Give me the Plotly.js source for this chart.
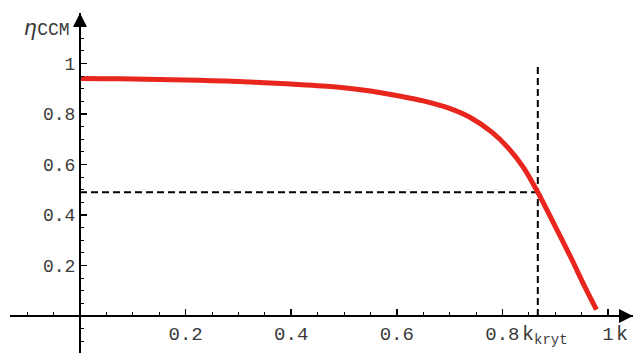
<!DOCTYPE html>
<html>
<head>
<meta charset="utf-8">
<script src="https://cdn.plot.ly/plotly-3.0.1.min.js"></script>
<style>html,body{margin:0;padding:0;background:#fff;}#chart{width:635px;height:353px;}</style>
</head>
<body>
<div id="chart"></div>
<script>
// Efficiency curve eta_CCM(k)
const kValues   = [0, 0.05, 0.1, 0.15, 0.2, 0.25, 0.3, 0.36, 0.42, 0.49, 0.55, 0.61, 0.65, 0.70, 0.74, 0.78, 0.81, 0.84, 0.867, 0.90, 0.93, 0.955, 0.978];
const etaValues = [0.941, 0.940, 0.939, 0.937, 0.935, 0.932, 0.929, 0.923, 0.916, 0.906, 0.891, 0.869, 0.852, 0.822, 0.785, 0.728, 0.668, 0.588, 0.49, 0.355, 0.23, 0.12, 0.025];

// critical point
const kKryt = 0.867;
const etaKryt = 0.49;
const etaTop = 1.0;

// tick labels
const xTickVals = [0.2, 0.4, 0.6, 0.8, 1];
const xTickText = ["0.2", "0.4", "0.6", "0.8", "1"];
const yTickVals = [0.2, 0.4, 0.6, 0.8, 1];
const yTickText = ["0.2", "0.4", "0.6", "0.8", "1"];

const xRange = [-0.1326, 1.0473];
const yRange = [-0.1465, 1.2];

const monoFont = "Liberation Mono, DejaVu Sans Mono, monospace";
const textColor = "#3a3a3a";

const traces = [
  {x: [kKryt, kKryt], y: [0, etaTop], mode: "lines", line: {color: "#000", width: 2, dash: "7px,4px"}, hoverinfo: "skip"},
  {x: [0, kKryt], y: [etaKryt, etaKryt], mode: "lines", line: {color: "#000", width: 2, dash: "7px,4px"}, hoverinfo: "skip"},
  {x: kValues, y: etaValues, mode: "lines", line: {color: "#e8261e", width: 5, shape: "spline", smoothing: 0.8}}
];

const axisCommon = {
  showgrid: false, zeroline: false, showline: true, linecolor: "#000", linewidth: 2,
  ticks: "inside", ticklen: 6, tickwidth: 1.5, tickcolor: "#000",
  tickmode: "array",
  minor: {tick0: 0, dtick: 0.05, ticks: "inside", ticklen: 3, tickwidth: 1, tickcolor: "#000"},
  fixedrange: true
};

const layout = {
  width: 635, height: 353,
  margin: {l: 10, r: 2, t: 13, b: 0},
  paper_bgcolor: "#fff", plot_bgcolor: "#fff",
  showlegend: false,
  xaxis: Object.assign({}, axisCommon, {
    range: xRange, tickvals: xTickVals, ticktext: xTickText,
    tickfont: {family: monoFont, size: 19, color: textColor},
    anchor: "free", position: (0 - yRange[0]) / (yRange[1] - yRange[0])
  }),
  yaxis: Object.assign({}, axisCommon, {
    range: yRange, tickvals: yTickVals, ticktext: yTickText,
    tickfont: {family: monoFont, size: 18, color: textColor},
    anchor: "free", position: (0 - xRange[0]) / (xRange[1] - xRange[0])
  }),
  annotations: [
    {x: xRange[1], y: 0, xref: "x", yref: "y", ax: -18, ay: 0, text: "", showarrow: true,
     arrowhead: 2, arrowsize: 1.4, arrowwidth: 2, arrowcolor: "#000"},
    {x: 0, y: yRange[1], xref: "x", yref: "y", ax: 0, ay: 18, text: "", showarrow: true,
     arrowhead: 2, arrowsize: 1.4, arrowwidth: 2, arrowcolor: "#000"},
    {x: 0.834, y: 0, xref: "x", yref: "y", xanchor: "left", yanchor: "top", yshift: -5, showarrow: false,
     text: "k<sub>kryt</sub>", font: {family: monoFont, size: 20, color: textColor}},
    {x: 1.012, y: 0, xref: "x", yref: "y", xanchor: "left", yanchor: "top", yshift: -5, showarrow: false,
     text: "k", font: {family: monoFont, size: 20, color: textColor}},
    {x: 0.019, y: 0.994, xref: "paper", yref: "paper", xanchor: "left", yanchor: "top", showarrow: false,
     text: "<i>η</i><span style=\"font-size:18px\">CCM</span>",
     font: {family: monoFont, size: 22, color: textColor}}
  ]
};

Plotly.newPlot("chart", traces, layout, {displayModeBar: false, staticPlot: true});
</script>
</body>
</html>
